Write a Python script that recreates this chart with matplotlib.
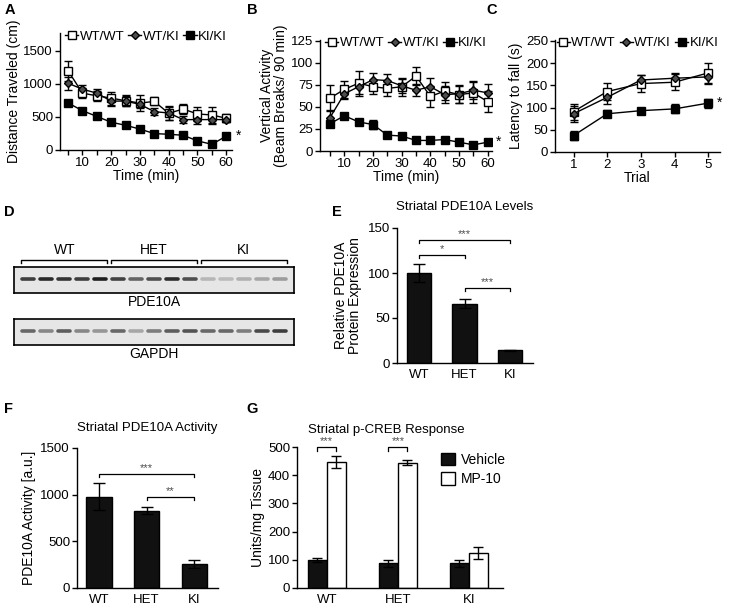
import numpy as np
import matplotlib
matplotlib.use("Agg")
import matplotlib.pyplot as plt
from matplotlib.lines import Line2D

plt.rcParams['font.family'] = ['Liberation Sans', 'DejaVu Sans']
plt.rcParams['font.size'] = 9
plt.rcParams['axes.linewidth'] = 1.0
plt.rcParams['xtick.major.width'] = 1.0
plt.rcParams['ytick.major.width'] = 1.0
plt.rcParams['xtick.major.size'] = 3.5
plt.rcParams['ytick.major.size'] = 3.5

# ---------------- data ----------------
time_min = [5, 10, 15, 20, 25, 30, 35, 40, 45, 50, 55, 60]
series_names = ['WT/WT', 'WT/KI', 'KI/KI']

dist_wtwt = [1200, 860, 820, 785, 745, 710, 735, 555, 620, 545, 530, 480]
dist_wtwt_err = [150, 80, 80, 100, 80, 120, 60, 100, 80, 100, 120, 60]
dist_wtki = [1010, 920, 860, 740, 740, 690, 580, 560, 460, 460, 460, 460]
dist_wtki_err = [100, 60, 60, 70, 70, 60, 50, 100, 50, 60, 60, 40]
dist_kiki = [712, 595, 508, 420, 374, 316, 248, 238, 223, 138, 86, 210]
dist_kiki_err = [30, 25, 25, 20, 20, 20, 20, 20, 20, 20, 15, 30]

vert_wtwt = [60, 70, 77, 73, 71, 73, 85, 62, 68, 64, 66, 56]
vert_wtwt_err = [15, 10, 14, 8, 8, 10, 10, 12, 10, 10, 12, 12]
vert_wtki = [38, 65, 73, 81, 80, 74, 69, 73, 64, 65, 69, 66]
vert_wtki_err = [8, 6, 8, 7, 7, 8, 7, 10, 10, 10, 10, 10]
vert_kiki = [31, 40, 33, 30, 18, 17, 12, 12, 13, 10, 7, 10]
vert_kiki_err = [3, 3, 3, 5, 2, 2, 2, 2, 2, 2, 2, 2]

trials = [1, 2, 3, 4, 5]
lat_wtwt = [91, 136, 154, 157, 178]
lat_wtwt_err = [18, 20, 20, 18, 22]
lat_wtki = [86, 123, 162, 166, 169]
lat_wtki_err = [18, 15, 12, 12, 15]
lat_kiki = [37, 86, 93, 97, 110]
lat_kiki_err = [10, 8, 5, 10, 10]

blot_groups = ['WT', 'HET', 'KI']
pde10a_band = [0.80, 0.90, 0.85, 0.80, 0.95, 0.78, 0.62, 0.72, 0.88, 0.72,
               0.22, 0.20, 0.25, 0.30, 0.35]
gapdh_band = [0.60, 0.45, 0.65, 0.45, 0.38, 0.60, 0.30, 0.50, 0.65, 0.70,
              0.60, 0.60, 0.50, 0.75, 0.80]

genotypes = ['WT', 'HET', 'KI']
levels = [100, 66, 14]
levels_err = [10, 5, 1]

activity = [980, 830, 255]
activity_err = [140, 40, 45]

vehicle = [100, 87, 87]
vehicle_err = [8, 12, 12]
mp10 = [447, 445, 125]
mp10_err = [22, 10, 22]
treatments = ['Vehicle', 'MP-10']

# ---------------- figure ----------------
W, H = 729, 607
fig = plt.figure(figsize=(W / 100, H / 100), dpi=100)


def add_ax(left, top, right, bottom):
    return fig.add_axes([left / W, 1 - bottom / H, (right - left) / W, (bottom - top) / H])


def style(ax):
    ax.spines['top'].set_visible(False)
    ax.spines['right'].set_visible(False)
    ax.tick_params(direction='out', labelsize=9.5, pad=1.5)


MARKERS = [dict(marker='s', mfc='white', mec='black', ms=5.5),
           dict(marker='D', mfc='0.3', mec='black', ms=4.5),
           dict(marker='s', mfc='black', mec='black', ms=5.5)]


def line_panel(ax, x, data, xlim, ylim, yticks, xticks, legx=0.03):
    handles = []
    for (v, e), mk, name in zip(data, MARKERS, series_names):
        ax.errorbar(x, v, yerr=e, color='black', lw=1.0, capsize=3, elinewidth=1.0,
                    capthick=1.0, mew=1.0, **mk)
        handles.append(Line2D([], [], color='black', lw=1.0, mew=1.0, **mk))
    ax.set_xlim(*xlim)
    ax.set_ylim(*ylim)
    ax.set_yticks(yticks)
    ax.set_xticks(xticks)
    style(ax)
    ax.legend(handles, series_names, ncol=3, loc='center left', bbox_to_anchor=(legx, 0.97),
              frameon=False, handlelength=1.0, handletextpad=0.1,
              columnspacing=0.3, fontsize=9.5, borderaxespad=0, borderpad=0)
    return ax


# Panel A
axA = add_ax(60, 33, 232, 150)
line_panel(axA, time_min,
           [(dist_wtwt, dist_wtwt_err), (dist_wtki, dist_wtki_err), (dist_kiki, dist_kiki_err)],
           (2.2, 62), (0, 1770), [0, 500, 1000, 1500], [10, 20, 30, 40, 50, 60])
axA.set_xticks(time_min, minor=True)
axA.tick_params(which='minor', length=3.5, width=1.0)
axA.set_xlabel('Time (min)', fontsize=10, labelpad=0)
axA.set_ylabel('Distance Traveled (cm)', fontsize=10, labelpad=2)
axA.text(time_min[-1] + 3.5, dist_kiki[-1], '*', fontsize=10, va='center', ha='left')

# Panel B
axB = add_ax(320, 40, 492, 151)
line_panel(axB, time_min,
           [(vert_wtwt, vert_wtwt_err), (vert_wtki, vert_wtki_err), (vert_kiki, vert_kiki_err)],
           (1.5, 61.5), (0, 126), [0, 25, 50, 75, 100, 125], [10, 20, 30, 40, 50, 60])
axB.set_xticks(time_min, minor=True)
axB.tick_params(which='minor', length=3.5, width=1.0)
axB.set_xlabel('Time (min)', fontsize=10, labelpad=0)
axB.set_ylabel('Vertical Activity\n(Beam Breaks/ 90 min)', fontsize=10, labelpad=2,
               linespacing=1.0)
axB.text(time_min[-1] + 3.0, vert_kiki[-1], '*', fontsize=10, va='center', ha='left')

# Panel C
axC = add_ax(555, 40, 720, 152)
line_panel(axC, trials,
           [(lat_wtwt, lat_wtwt_err), (lat_wtki, lat_wtki_err), (lat_kiki, lat_kiki_err)],
           (0.45, 5.35), (0, 252), [0, 50, 100, 150, 200, 250], trials, legx=0.01)
axC.set_xlabel('Trial', fontsize=10, labelpad=0)
axC.set_ylabel('Latency to fall (s)', fontsize=10, labelpad=2)
axC.text(trials[-1] + 0.25, lat_kiki[-1], '*', fontsize=10, va='center', ha='left')


# Panel D: western blots
def blot(top, bottom, bands, label):
    ax = add_ax(14, top, 294, bottom)
    ax.set_facecolor('#e6e6e6')
    lanes = np.arange(len(bands))
    for i, v in zip(lanes, bands):
        g = 0.9 - 0.82 * v
        ax.plot([i - 0.34, i + 0.34], [0.52, 0.52], color=(g, g, g), lw=2.6,
                solid_capstyle='round')
    ax.set_xlim(-0.8, len(bands) - 0.2)
    ax.set_ylim(0, 1)
    ax.set_xticks([])
    ax.set_yticks([])
    for s in ax.spines.values():
        s.set_linewidth(1.2)
    ax.text(0.5, -0.36, label, transform=ax.transAxes, ha='center', va='center', fontsize=10)
    return ax


axD1 = blot(267, 293, pde10a_band, 'PDE10A')
axD2 = blot(319, 345, gapdh_band, 'GAPDH')
for gi, name in enumerate(blot_groups):
    x0 = gi * 5 - 0.4
    x1 = gi * 5 + 4.4
    tr = axD1.get_xaxis_transform()
    axD1.plot([x0, x0, x1, x1], [1.15, 1.27, 1.27, 1.15], color='black', lw=1.0,
              transform=tr, clip_on=False)
    axD1.text((x0 + x1) / 2, 1.65, name, transform=tr, ha='center', va='center', fontsize=10)


def bracket(ax, x0, x1, y, drop, text, tsize=8):
    ax.plot([x0, x0, x1, x1], [y - drop, y, y, y - drop], color='black', lw=0.9, clip_on=False)
    ax.text((x0 + x1) / 2, y + drop * 0.3, text, ha='center', va='bottom', fontsize=tsize,
            color='0.3', clip_on=False)


xg = np.arange(3)

# Panel E
axE = add_ax(397, 228, 533, 363)
axE.bar(xg, levels, width=0.53, color='#111111', edgecolor='black',
        yerr=levels_err, capsize=4, error_kw=dict(elinewidth=1.0, capthick=1.0))
axE.set_xlim(-0.48, 2.5)
axE.set_ylim(0, 150)
axE.set_yticks([0, 50, 100, 150])
axE.set_xticks(xg)
axE.set_xticklabels(genotypes, fontsize=10)
style(axE)
axE.tick_params(axis='x', length=0, pad=4)
axE.set_ylabel('Relative PDE10A\nProtein Expression', fontsize=10, linespacing=1.0, labelpad=4)
axE.set_title('Striatal PDE10A Levels', fontsize=9.5, pad=13)
bracket(axE, 0, 2, 137, 3.5, '***')
bracket(axE, 0, 1, 120, 3.5, '*')
bracket(axE, 1, 2, 83, 3.5, '***')

# Panel F
axF = add_ax(77, 448, 218, 588)
axF.bar(xg, activity, width=0.53, color='#111111', edgecolor='black',
        yerr=activity_err, capsize=4, error_kw=dict(elinewidth=1.0, capthick=1.0))
axF.set_xlim(-0.46, 2.5)
axF.set_ylim(0, 1500)
axF.set_yticks([0, 500, 1000, 1500])
axF.set_xticks(xg)
axF.set_xticklabels(genotypes, fontsize=10)
style(axF)
axF.tick_params(axis='x', length=0, pad=4)
axF.set_ylabel('PDE10A Activity [a.u.]', fontsize=10, labelpad=3)
axF.set_title('Striatal PDE10A Activity', fontsize=9.5, pad=12)
bracket(axF, 0, 2, 1220, 35, '***')
bracket(axF, 1, 2, 975, 35, '**')

# Panel G
axG = add_ax(297, 447, 503, 588)
bw = 0.27
axG.bar(xg - bw / 2, vehicle, width=bw, color='#111111', edgecolor='black', lw=1.0,
        yerr=vehicle_err, capsize=3.5, error_kw=dict(elinewidth=1.0, capthick=1.0),
        label=treatments[0])
axG.bar(xg + bw / 2, mp10, width=bw, color='white', edgecolor='black', lw=1.0,
        yerr=mp10_err, capsize=3.5, error_kw=dict(elinewidth=1.0, capthick=1.0),
        label=treatments[1])
axG.set_xlim(-0.42, 2.48)
axG.set_ylim(0, 500)
axG.set_yticks([0, 100, 200, 300, 400, 500])
axG.set_xticks(xg)
axG.set_xticklabels(genotypes, fontsize=10)
style(axG)
axG.tick_params(axis='x', length=0, pad=4)
axG.set_ylabel('Units/mg Tissue', fontsize=10, labelpad=2)
axG.text(-0.27, 540, 'Striatal p-CREB Response', fontsize=9.5, ha='left', va='bottom')
for i in [0, 1]:
    bracket(axG, i - bw / 2, i + bw / 2, 500, 15, '***')
axG.legend(loc='upper left', bbox_to_anchor=(0.7, 0.96), frameon=False, fontsize=10,
           handlelength=1.0, handleheight=1.0, handletextpad=0.4, labelspacing=0.4,
           borderpad=0, borderaxespad=0)

# Panel letters
for lab, (x, y) in {'A': (5, 10), 'B': (247, 10), 'C': (486, 10), 'D': (4, 212),
                    'E': (332, 212), 'F': (4, 409), 'G': (246, 409)}.items():
    fig.text(x / W, 1 - y / H, lab, fontsize=10.5, fontweight='bold', ha='left', va='center')

fig.savefig('out.png', dpi=100)
